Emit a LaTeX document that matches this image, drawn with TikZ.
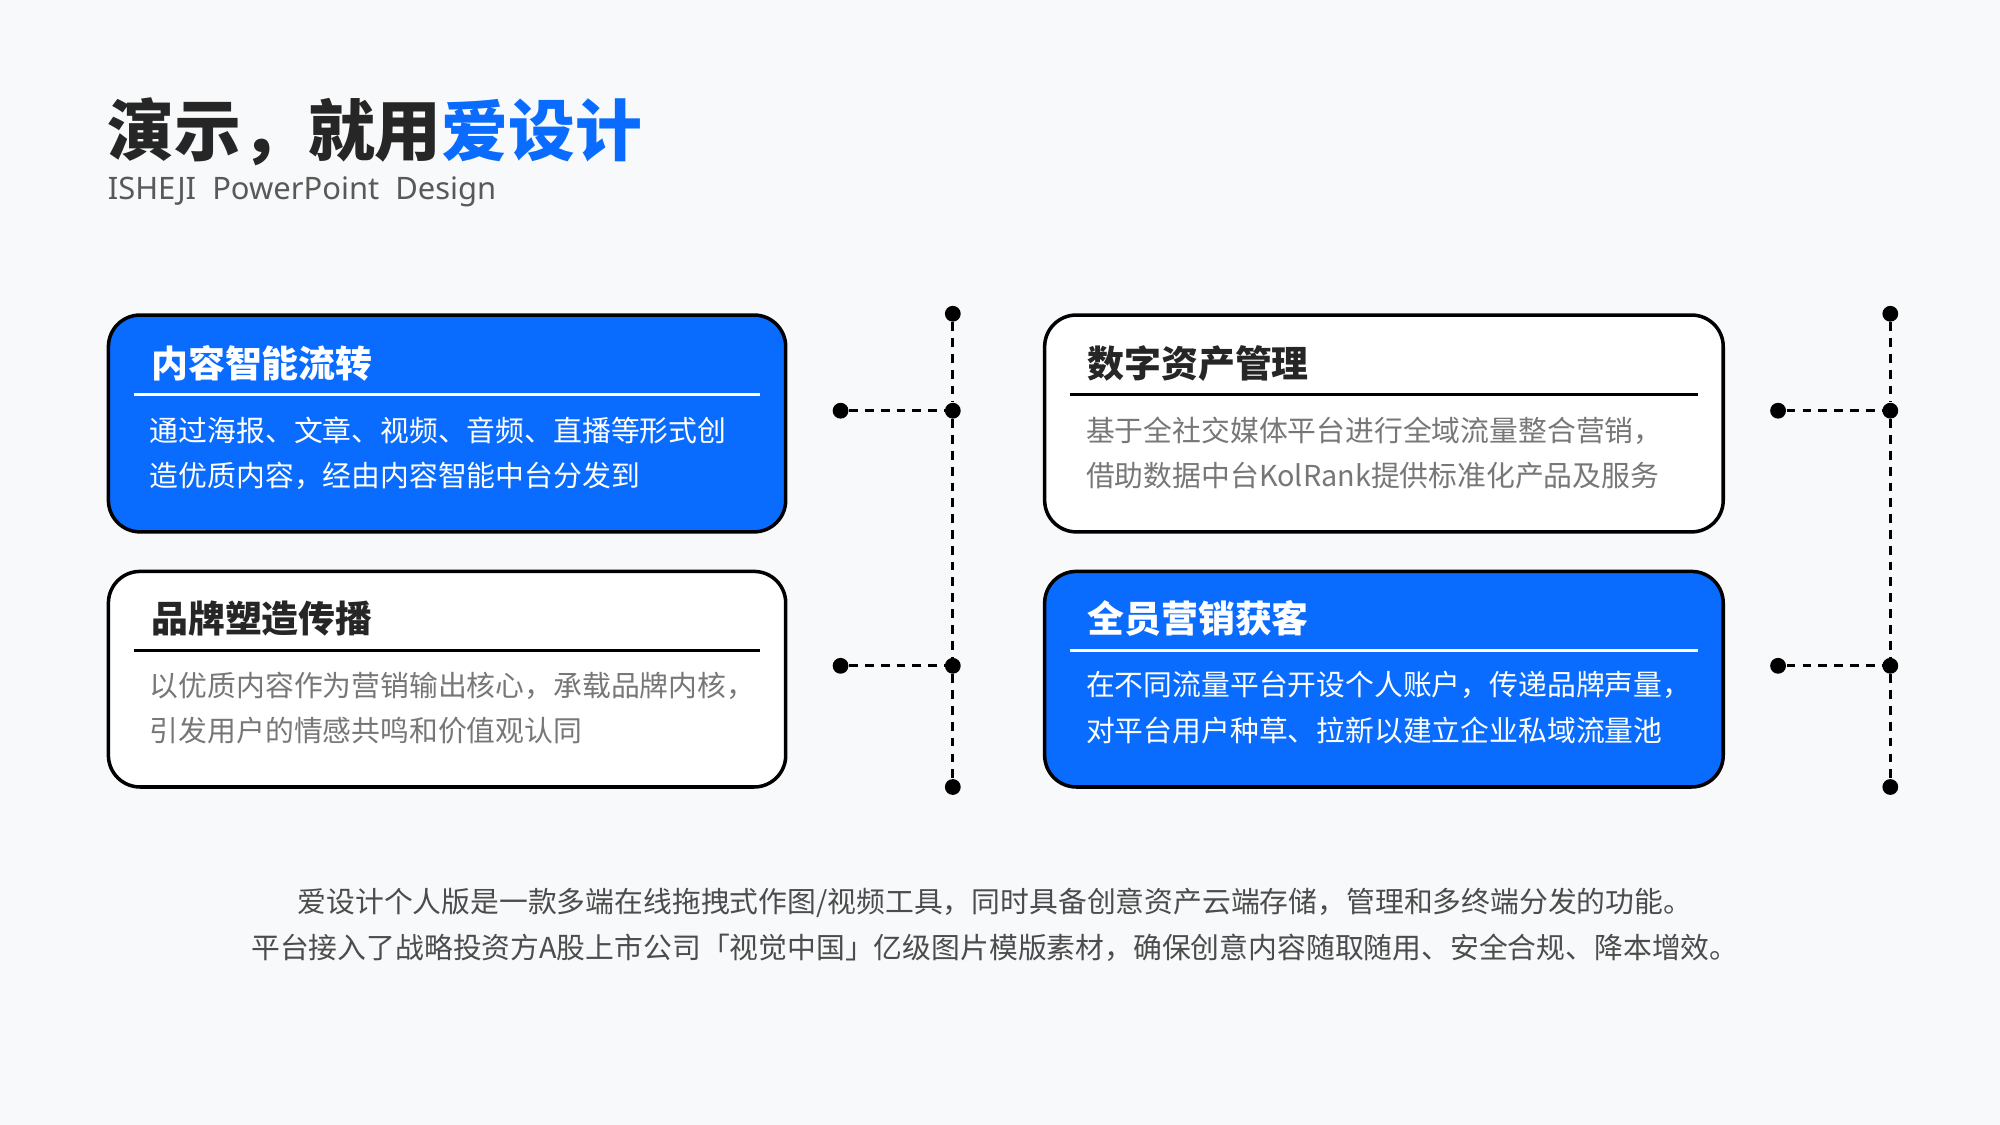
\documentclass[tikz,border=0pt]{standalone}
\usepackage{fontspec}
\setmainfont{Noto Sans CJK SC}
\newfontfamily\cjk{Noto Sans CJK SC}
\newfontfamily\latin{Noto Sans}
\begin{document}
\begin{tikzpicture}[x=0.012755cm,y=-0.012755cm,
  card/.style={rounded corners=9pt,line width=1pt,draw=black},
  ttl/.style={anchor=west,font=\cjk\bfseries\fontsize{10.5pt}{12pt}\selectfont,inner sep=0},
  body/.style={anchor=north west,align=left,font=\cjk\fontsize{8.2pt}{12.9pt}\selectfont,inner sep=0},
  dline/.style={line width=0.9pt,dash pattern=on 2.5pt off 2pt},
  dot/.style={circle,fill=black,inner sep=0,minimum size=4.5pt}]
\definecolor{bl}{HTML}{0A6CFF}
\definecolor{tx}{HTML}{777777}
\definecolor{bg}{HTML}{F8F9FA}
\fill[bg] (0,0) rectangle (1568,882);
\useasboundingbox (0,0) rectangle (1568,882);
\node[anchor=west,inner sep=0,font=\cjk\bfseries\fontsize{19pt}{22pt}\selectfont,text=black!85] (t) at (84,103) {演示，就用\textcolor{bl}{爱设计}};
\node[anchor=west,inner sep=0,font=\latin\fontsize{8.8pt}{10pt}\selectfont,text=black!65] (st) at (84,150) {ISHEJI\ \ PowerPoint\ \ Design};
% cards
\draw[card,fill=bl] (85,247) rectangle (616,417);
\node[ttl,text=white] (a) at (118,285) {内容智能流转};
\draw[white,line width=0.9pt] (105,309) -- (596,309);
\node[body,text=white] (ab) at (117,326) {通过海报、文章、视频、音频、直播等形式创\\造优质内容，经由内容智能中台分发到};
\draw[card,fill=white] (85,448) rectangle (616,617);
\node[ttl,text=black!85] (b) at (118,485) {品牌塑造传播};
\draw[black,line width=0.9pt] (105,510) -- (596,510);
\node[body,text=tx] (bb) at (117,526) {以优质内容作为营销输出核心，承载品牌内核，\\引发用户的情感共鸣和价值观认同};
\draw[card,fill=white] (819,247) rectangle (1351,417);
\node[ttl,text=black!85] (c) at (852,285) {数字资产管理};
\draw[black,line width=0.9pt] (839,309) -- (1331,309);
\node[body,text=tx] (cb) at (851,326) {基于全社交媒体平台进行全域流量整合营销，\\借助数据中台KolRank提供标准化产品及服务};
\draw[card,fill=bl] (819,448) rectangle (1351,617);
\node[ttl,text=white] (d) at (852,485) {全员营销获客};
\draw[white,line width=0.9pt] (839,510) -- (1331,510);
\node[body,text=white] (db) at (851,526) {在不同流量平台开设个人账户，传递品牌声量，\\对平台用户种草、拉新以建立企业私域流量池};
% connectors
\foreach \n/\x in {L/747,R/1482}{
  \node[dot] (\n1) at (\x,246) {};
  \node[dot] (\n2) at (\x,322) {};
  \node[dot] (\n3) at (\x,522) {};
  \node[dot] (\n4) at (\x,617) {};
  \node[dot] (\n5) at (\x-88,322) {};
  \node[dot] (\n6) at (\x-88,522) {};
  \draw[dline] (\n1) -- (\n2) -- (\n3) -- (\n4);
  \draw[dline] (\n5) -- (\n2);
  \draw[dline] (\n6) -- (\n3);
}
\node[align=center,inner sep=0,font=\cjk\fontsize{8.2pt}{12.9pt}\selectfont,text=black!70] (f) at (780,725) {爱设计个人版是一款多端在线拖拽式作图/视频工具，同时具备创意资产云端存储，管理和多终端分发的功能。\\平台接入了战略投资方A股上市公司「视觉中国」亿级图片模版素材，确保创意内容随取随用、安全合规、降本增效。};
\end{tikzpicture}
\end{document}
